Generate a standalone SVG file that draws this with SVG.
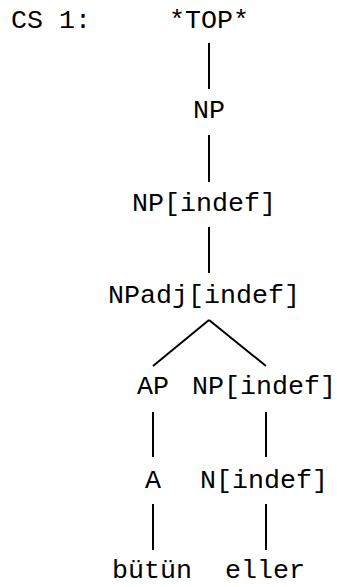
<svg xmlns="http://www.w3.org/2000/svg" width="337" height="587" viewBox="0 0 337 587">
<style>
text{font-family:"Liberation Mono","Courier New",monospace;font-size:26.67px;fill:#000}
line{stroke:#000;stroke-width:2;fill:none}
</style>
<rect width="337" height="587" fill="#fff"/>
<text id="label" x="11" y="28">CS 1:</text>
<g id="connectors">
<line x1="209" y1="43" x2="209" y2="89"/>
<line x1="209" y1="135" x2="209" y2="182"/>
<line x1="209" y1="227" x2="209" y2="273"/>
<line x1="209" y1="320" x2="153" y2="366"/>
<line x1="209" y1="320" x2="266" y2="366"/>
<line x1="153" y1="412" x2="153" y2="457"/>
<line x1="266" y1="412" x2="266" y2="457"/>
<line x1="153" y1="504" x2="153" y2="550"/>
<line x1="266" y1="504" x2="266" y2="550"/>
</g>
<g id="top"><text x="169" y="28">*TOP*</text></g>
<g id="np"><text x="193" y="118">NP</text></g>
<g id="np-indef"><text x="132" y="211">NP[indef]</text></g>
<g id="npadj"><text x="108" y="303">NPadj[indef]</text></g>
<g id="ap"><text x="137" y="394">AP</text></g>
<g id="np-indef2"><text x="192" y="394">NP[indef]</text></g>
<g id="a"><text x="145" y="488">A</text></g>
<g id="n-indef"><text x="200" y="488">N[indef]</text></g>
<g id="butun"><text x="112" y="578">bütün</text></g>
<g id="eller"><text x="225" y="578">eller</text></g>
</svg>
